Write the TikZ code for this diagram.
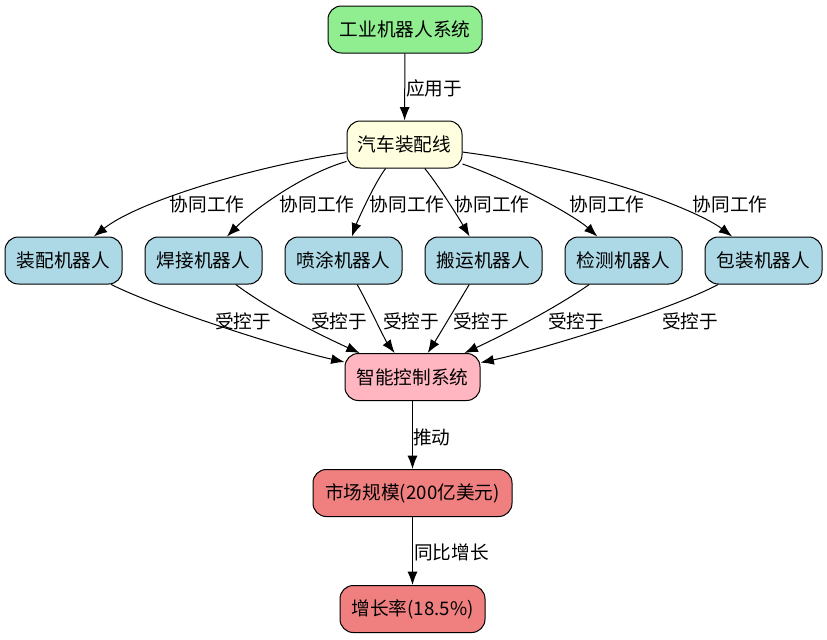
\documentclass[tikz,border=0pt]{standalone}
\usepackage{fontspec}
\setmainfont{Noto Sans CJK SC}
\usetikzlibrary{arrows.meta}
\definecolor{lgreen}{HTML}{90EE90}
\definecolor{lyellow}{HTML}{FFFFE0}
\definecolor{lblue}{HTML}{ADD8E6}
\definecolor{lpink}{HTML}{FFB6C1}
\definecolor{lcoral}{HTML}{F08080}
\begin{document}
\begin{tikzpicture}[x=0.75pt,y=-0.75pt,
  box/.style={draw=black, line width=0.75pt, rounded corners=10pt, minimum height=35.25pt, inner sep=0pt, font=\fontsize{14pt}{16pt}\selectfont},
  robot/.style={box, fill=lblue, minimum width=87.75pt},
  lbl/.style={font=\fontsize{14pt}{16pt}\selectfont, inner sep=0pt},
  conn/.style={draw=black, line width=0.75pt, -{Latex[length=10pt,width=7.5pt]}}]
\useasboundingbox (0,0) rectangle (827,639);
% nodes
\node[box, fill=lgreen, minimum width=115.5pt] (sys) at (405,29.5) {工业机器人系统};
\node[box, fill=lyellow, minimum width=86.25pt] (car) at (404.5,144.5) {汽车装配线};
\node[robot] (r1) at (63.5,260.5) {装配机器人};
\node[robot] (r2) at (203.5,260.5) {焊接机器人};
\node[robot] (r3) at (343.5,260.5) {喷涂机器人};
\node[robot] (r4) at (483.5,260.5) {搬运机器人};
\node[robot] (r5) at (623.5,260.5) {检测机器人};
\node[robot] (r6) at (763.5,260.5) {包装机器人};
\node[box, fill=lpink, minimum width=101.25pt] (ctrl) at (412.5,377) {智能控制系统};
\node[box, fill=lcoral, minimum width=149.25pt] (mkt) at (412.5,493) {市场规模(200亿美元)};
\node[box, fill=lcoral, minimum width=108.75pt] (grow) at (412.5,609) {增长率(18.5\%)};
% edges
\draw[conn] (sys) -- (car);
\draw[conn] (car) .. controls (260,165) and (140,200) .. (r1);
\draw[conn] (car) .. controls (300,175) and (250,213) .. (r2);
\draw[conn] (car) .. controls (375,182) and (357,222) .. (r3);
\draw[conn] (car) .. controls (437,183) and (460,220) .. (r4);
\draw[conn] (car) .. controls (510,180) and (575,216) .. (r5);
\draw[conn] (car) .. controls (600,170) and (700,212) .. (r6);
\draw[conn] (r1) .. controls (160,309) and (290,350) .. (ctrl);
\draw[conn] (r2) .. controls (270,310) and (320,335) .. (ctrl);
\draw[conn] (r3) .. controls (366,300) and (385,340) .. (ctrl);
\draw[conn] (r4) .. controls (460,300) and (436,340) .. (ctrl);
\draw[conn] (r5) .. controls (560,305) and (510,332) .. (ctrl);
\draw[conn] (r6) .. controls (670,310) and (540,350) .. (ctrl);
\draw[conn] (ctrl) -- (mkt);
\draw[conn] (mkt) -- (grow);
% labels
\node[lbl, anchor=west] (l0) at (406,88) {应用于};
\node[lbl] (l1) at (207,204) {协同工作};
\node[lbl] (l2) at (317,204) {协同工作};
\node[lbl] (l3) at (407,204) {协同工作};
\node[lbl] (l4) at (492,204) {协同工作};
\node[lbl] (l5) at (607,204) {协同工作};
\node[lbl] (l6) at (730,204) {协同工作};
\node[lbl] (k1) at (243,321) {受控于};
\node[lbl] (k2) at (339,321) {受控于};
\node[lbl] (k3) at (411,321) {受控于};
\node[lbl] (k4) at (481,321) {受控于};
\node[lbl] (k5) at (576,321) {受控于};
\node[lbl] (k6) at (690,321) {受控于};
\node[lbl, anchor=west] (l7) at (413,437) {推动};
\node[lbl, anchor=west] (l8) at (414,552) {同比增长};
\end{tikzpicture}
\end{document}
